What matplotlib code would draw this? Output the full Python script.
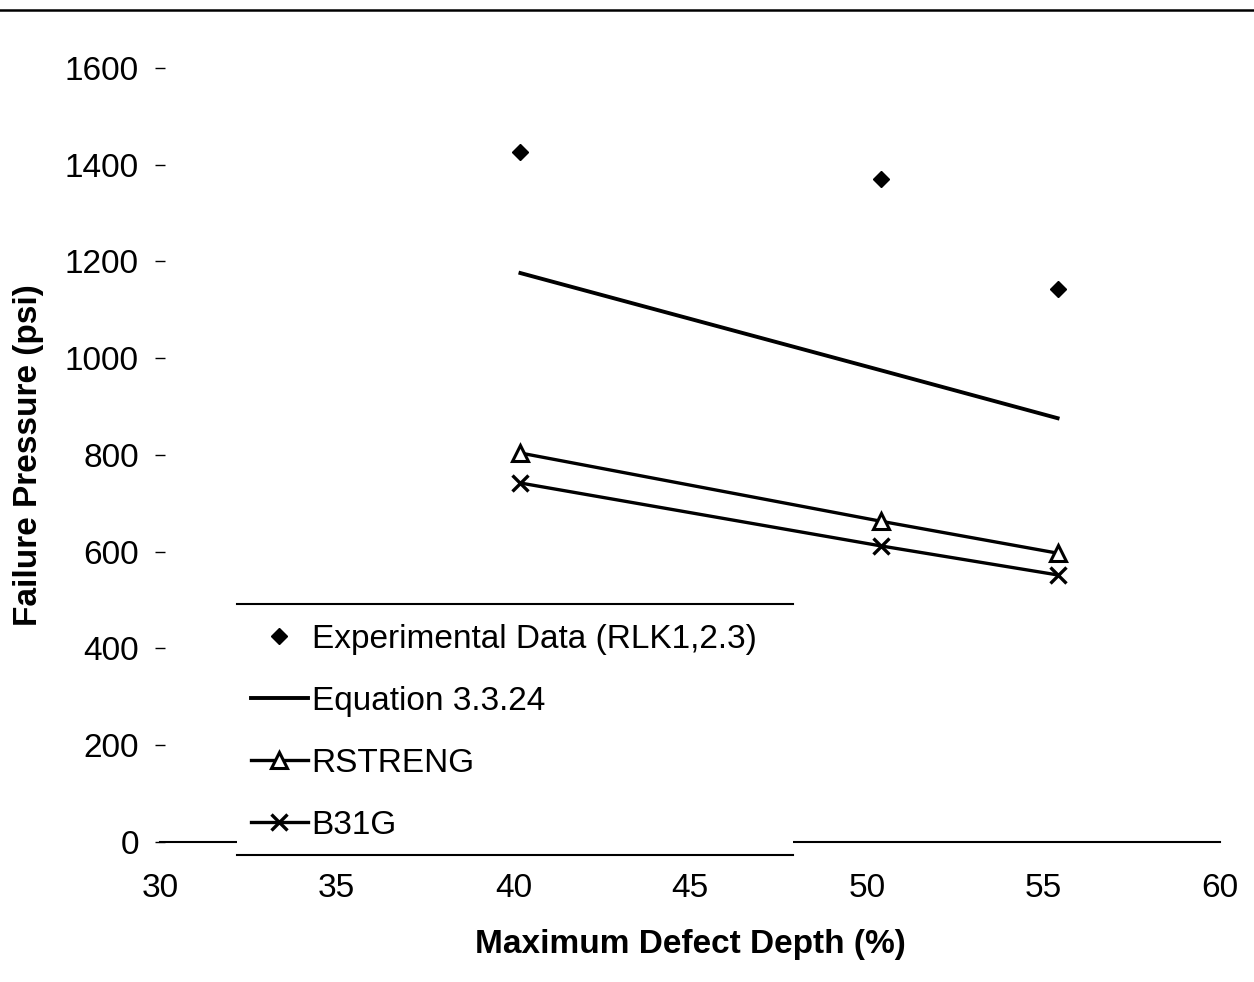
import matplotlib
matplotlib.use("Agg")
import matplotlib.pyplot as plt
from matplotlib.lines import Line2D
from matplotlib.patches import Rectangle

plt.rcParams['font.family'] = ['Liberation Sans', 'DejaVu Sans']

# defect depth (%) for the three specimens
depth = [40.2, 50.4, 55.4]
experimental = [1426, 1370, 1143]
equation = [1176, 975, 876]
rstreng = [804, 663, 597]
b31g = [742, 612, 552]

xticks = [30, 35, 40, 45, 50, 55, 60]
yticks = [0, 200, 400, 600, 800, 1000, 1200, 1400, 1600]

FS = 24

fig = plt.figure(figsize=(12.54, 9.82), dpi=100)
ax = fig.add_axes([0.1276, 0.1426, 0.8454, 0.7882])

ax.plot(depth, experimental, linestyle='none', marker='D', color='black',
        markersize=8, label='Experimental Data (RLK1,2.3)')
ax.plot(depth, equation, color='black', linewidth=2.8, label='Equation 3.3.24')
ax.plot(depth, rstreng, color='black', linewidth=2.4, marker='^', markersize=11,
        markerfacecolor='white', markeredgewidth=2.2, label='RSTRENG')
ax.plot(depth, b31g, color='black', linewidth=2.4, marker='x', markersize=12,
        markeredgewidth=2.4, label='B31G')

ax.set_xlim(30, 60)
ax.set_ylim(0, 1600)
ax.set_xticks(xticks)
ax.set_yticks(yticks)
for s in ['top', 'right', 'left']:
    ax.spines[s].set_visible(False)
ax.spines['bottom'].set_linewidth(1.5)
ax.tick_params(axis='x', length=0, pad=22, labelsize=FS)
ax.tick_params(axis='y', direction='inout', length=6.5, width=1, pad=12, labelsize=FS)

ax.set_xlabel('Maximum Defect Depth (%)', fontsize=FS, fontweight='bold', labelpad=18)
ax.set_ylabel('Failure Pressure (psi)', fontsize=FS, fontweight='bold', labelpad=15)

# legend box: white panel with rules on top and bottom only
x0, x1 = 237 / 1254, 793 / 1254
y0, y1 = 1 - 855 / 982, 1 - 604 / 982
fig.add_artist(Rectangle((x0, y0), x1 - x0, y1 - y0, transform=fig.transFigure,
                         facecolor='white', edgecolor='none', zorder=3))
for yy in (y0, y1):
    fig.add_artist(Line2D([x0, x1], [yy, yy], transform=fig.transFigure,
                          color='black', linewidth=1.5, zorder=4))

handles, labels = ax.get_legend_handles_labels()
leg = fig.legend(handles, labels, loc='upper left', bbox_to_anchor=(251 / 1254, 1 - 624 / 982),
                 frameon=False, fontsize=FS, handlelength=1.7, handletextpad=0.12,
                 labelspacing=0.93, borderaxespad=0, borderpad=0)
leg.set_zorder(5)

# rule across the top of the page
fig.add_artist(Line2D([0, 1], [1 - 10 / 982, 1 - 10 / 982], transform=fig.transFigure,
                      color='black', linewidth=1.8))

fig.savefig('out.png', dpi=100)
